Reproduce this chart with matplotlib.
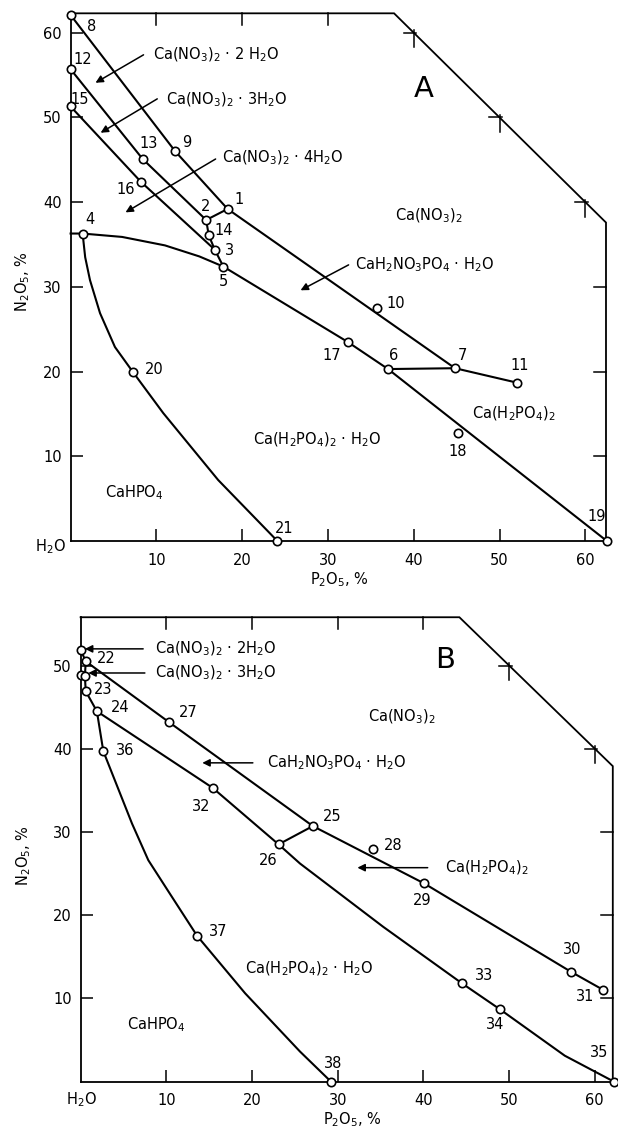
import matplotlib
matplotlib.use("Agg")
import matplotlib.pyplot as plt

plt.rcParams["font.family"] = ["DejaVu Sans"]
plt.rcParams["mathtext.default"] = "regular"

# ---------------- panel A ----------------
# invariant points: P2O5 %, N2O5 %
a_ids = ["1", "2", "3", "4", "5", "6", "7", "8", "9", "10", "11",
         "12", "13", "14", "15", "16", "17", "18", "19", "20", "21"]
a_p2o5 = [18.3, 15.8, 16.8, 1.4, 17.8, 37.0, 44.8, 0.0, 12.2, 35.7, 52.0,
          0.0, 8.4, 16.1, 0.0, 8.2, 32.3, 45.1, 62.5, 7.3, 24.1]
a_n2o5 = [39.2, 37.9, 34.4, 36.3, 32.4, 20.3, 20.4, 62.1, 46.0, 27.5, 18.7,
          55.7, 45.1, 36.1, 51.3, 42.4, 23.5, 12.8, 0.0, 19.9, 0.0]

# boundary curves: point ids, or (P2O5, N2O5)
a_curves = [
    ["8", "9", "1", "7"],
    ["7", "11"],
    ["6", "7"],
    ["12", "13", "2", "1"],
    ["2", "14", "3"],
    ["15", "16", "3", "5"],
    [(0.0, 36.3), "4", (6.0, 35.9), (11.0, 34.9), (15.0, 33.6), "5", "17", "6", "19"],
    ["4", (1.7, 33.5), (2.26, 30.8), (3.43, 26.9), (5.17, 22.9), "20",
     (10.8, 15.1), (17.2, 7.2), "21"],
]

a_phases = [r"Ca(NO$_3$)$_2$ · 2 H$_2$O", r"Ca(NO$_3$)$_2$ · 3H$_2$O",
            r"Ca(NO$_3$)$_2$ · 4H$_2$O", r"Ca(NO$_3$)$_2$",
            r"CaH$_2$NO$_3$PO$_4$ · H$_2$O", r"Ca(H$_2$PO$_4$)$_2$",
            r"Ca(H$_2$PO$_4$)$_2$ · H$_2$O", r"CaHPO$_4$"]

# ---------------- panel B ----------------
b_ids = ["22", "23", "24", "25", "26", "27", "28", "29", "30", "31",
         "32", "33", "34", "35", "36", "37", "38", "a", "b", "c"]
b_p2o5 = [0.6, 0.6, 1.9, 27.1, 23.1, 10.3, 34.1, 40.1, 57.2, 61.0,
          15.4, 44.5, 48.9, 62.2, 2.65, 13.6, 29.2, 0.0, 0.0, 0.5]
b_n2o5 = [50.5, 46.9, 44.5, 30.7, 28.5, 43.2, 28.0, 23.8, 13.2, 11.0,
          35.3, 11.8, 8.7, 0.0, 39.7, 17.5, 0.0, 51.9, 48.9, 48.7]

b_curves = [
    ["a", "22"],
    ["22", "c", "23"],
    ["b", "c"],
    ["23", "24"],
    ["22", "27", "25", "29", "30", "31"],
    ["24", "32", "26", (25.6, 26.2), (35.3, 18.6), "33", "34", (56.5, 3.1), "35"],
    ["26", "25"],
    ["24", "36", (6.0, 31.0), (7.9, 26.6), (10.4, 22.6), "37", (19.2, 10.6), (25.6, 3.6), "38"],
]

b_phases = [r"Ca(NO$_3$)$_2$ · 2H$_2$O", r"Ca(NO$_3$)$_2$ · 3H$_2$O",
            r"CaH$_2$NO$_3$PO$_4$ · H$_2$O", r"Ca(NO$_3$)$_2$",
            r"Ca(H$_2$PO$_4$)$_2$", r"Ca(H$_2$PO$_4$)$_2$ · H$_2$O",
            r"CaHPO$_4$"]

xtick_vals = [10, 20, 30, 40, 50, 60]
a_ytick_vals = [10, 20, 30, 40, 50, 60]
b_ytick_vals = [10, 20, 30, 40, 50]

# ---------------- layout (label spots, arrows) ----------------
a_num_pos = {"1": (19.6, 40.3), "2": (15.7, 39.5), "3": (18.5, 34.3), "4": (2.3, 37.9),
             "5": (17.8, 30.6), "6": (37.7, 21.9), "7": (45.7, 21.9), "8": (2.5, 60.8),
             "9": (13.5, 47.0), "10": (37.9, 28.0), "11": (52.3, 20.7), "12": (1.4, 56.9),
             "13": (9.1, 46.9), "14": (17.9, 36.7), "15": (1.1, 52.1), "16": (6.4, 41.5),
             "17": (30.4, 21.9), "18": (45.1, 10.6), "19": (61.3, 2.9), "20": (9.7, 20.2),
             "21": (24.9, 1.5)}
a_phase_pos = [(9.6, 57.4), (11.1, 52.1), (17.7, 45.3), (37.8, 38.4),
               (33.1, 32.6), (46.8, 15.0), (21.3, 11.9), (4.0, 5.7)]
a_arrows = [((8.5, 57.4), (2.9, 54.1)), ((10.1, 52.2), (3.5, 48.2)),
            ((16.9, 45.1), (6.4, 38.8)), ((32.4, 32.6), (26.8, 29.6))]

b_num_pos = {"22": (3.0, 50.9), "23": (2.65, 47.1), "24": (4.6, 45.0), "25": (29.3, 31.9),
             "26": (21.9, 26.6), "27": (12.6, 44.3), "28": (36.5, 28.4), "29": (39.9, 21.8),
             "30": (57.4, 15.9), "31": (58.9, 10.2), "32": (14.1, 33.1), "33": (47.1, 12.8),
             "34": (48.4, 6.8), "35": (60.5, 3.5), "36": (5.2, 39.8), "37": (16.1, 18.0),
             "38": (29.5, 2.2)}
b_phase_pos = [(8.7, 52.0), (8.7, 49.1), (21.8, 38.3), (33.5, 43.8),
               (42.5, 25.7), (19.2, 13.6), (5.4, 6.8)]
b_arrows = [((7.3, 52.0), (0.5, 52.0)), ((7.5, 49.1), (0.9, 49.1)),
            ((20.1, 38.3), (14.2, 38.3)), ((40.5, 25.7), (32.3, 25.7))]

FS = 10.5
LW = 1.5


def draw_panel(ax, ids, xs, ys, curves, num_pos, phases, phase_pos, arrows,
               yticks, x_right, y_top, letter, letter_pos):
    pts = dict(zip(ids, zip(xs, ys)))

    ax.set_xlim(0, x_right)
    ax.set_ylim(0, y_top)
    for side in ("top", "right"):
        ax.spines[side].set_visible(False)
    for side in ("left", "bottom"):
        ax.spines[side].set_linewidth(1.3)
    ax.set_xticks(xtick_vals)
    ax.set_yticks(yticks)
    ax.tick_params(direction="in", length=8.5, width=1.1, labelsize=FS)
    ax.tick_params(axis="x", pad=8.5)
    ax.tick_params(axis="y", pad=6.5)

    # truncated outer boundary (P2O5 + N2O5 = 100 line)
    bx = [0, 100 - y_top, x_right, x_right]
    by = [y_top, y_top, 100 - x_right, 0]
    ax.plot(bx, by, color="k", lw=1.3, clip_on=False, solid_joinstyle="miter")
    tl = 1.4
    for t in xtick_vals:
        if t < 100 - y_top:
            ax.plot([t, t], [y_top, y_top - tl], color="k", lw=1.1, clip_on=False)
        elif t < x_right:
            ax.plot([t - 1.2, t + 0.3], [100 - t, 100 - t], color="k", lw=1.1, clip_on=False)
            ax.plot([t, t], [100 - t + 0.3, 100 - t - 1.7], color="k", lw=1.1, clip_on=False)
    for t in yticks:
        if t < 100 - x_right:
            ax.plot([x_right, x_right - tl], [t, t], color="k", lw=1.1, clip_on=False)

    for c in curves:
        cx = [pts[p][0] if isinstance(p, str) else p[0] for p in c]
        cy = [pts[p][1] if isinstance(p, str) else p[1] for p in c]
        ax.plot(cx, cy, color="k", lw=LW, clip_on=False, zorder=3,
                solid_joinstyle="round")

    ax.plot(xs, ys, "o", ms=6, mfc="white", mec="k", mew=1.2,
            clip_on=False, zorder=4)

    for k, (lx, ly) in num_pos.items():
        ax.text(lx, ly, k, fontsize=FS, ha="center", va="center", zorder=5)

    for txt, (px, py) in zip(phases, phase_pos):
        ax.text(px, py, txt, fontsize=FS, ha="left", va="center")

    for tail, head in arrows:
        ax.annotate("", xy=head, xytext=tail,
                    arrowprops=dict(arrowstyle="-|>", color="k", lw=1.1,
                                    mutation_scale=11, shrinkA=0, shrinkB=0))

    ax.text(letter_pos[0], letter_pos[1], letter, fontsize=21,
            ha="center", va="center")


fig = plt.figure(figsize=(6.18, 11.32), dpi=100)

# pixel geometry of the two panels
ax_a = fig.add_axes([70.6 / 618, 1 - 541 / 1132, 62.4 * 8.58 / 618, 62.3 * 8.47 / 1132])
ax_b = fig.add_axes([80.6 / 618, 1 - 1081.5 / 1132, 62.1 * 8.57 / 618, 55.8 * 8.32 / 1132])

draw_panel(ax_a, a_ids, a_p2o5, a_n2o5, a_curves, a_num_pos, a_phases, a_phase_pos,
           a_arrows, a_ytick_vals, 62.4, 62.3, "A", (41.1, 53.4))
draw_panel(ax_b, b_ids, b_p2o5, b_n2o5, b_curves, b_num_pos, b_phases, b_phase_pos,
           b_arrows, b_ytick_vals, 62.1, 55.8, "B", (42.5, 50.7))

# axis titles and corner labels
ax_a.text(-0.6, -0.7, r"H$_2$O", fontsize=FS, ha="right", va="center")
ax_b.text(0.05, -2.2, r"H$_2$O", fontsize=FS, ha="center", va="center")
ax_a.text(-5.6, 30.6, r"N$_2$O$_5$, %", fontsize=FS, rotation=90, ha="center", va="center")
ax_b.text(-6.6, 27.2, r"N$_2$O$_5$, %", fontsize=FS, rotation=90, ha="center", va="center")
ax_a.text(31.3, -4.6, r"P$_2$O$_5$, %", fontsize=FS, ha="center", va="center")
ax_b.text(31.7, -4.6, r"P$_2$O$_5$, %", fontsize=FS, ha="center", va="center")

fig.savefig("out.png", dpi=100)
